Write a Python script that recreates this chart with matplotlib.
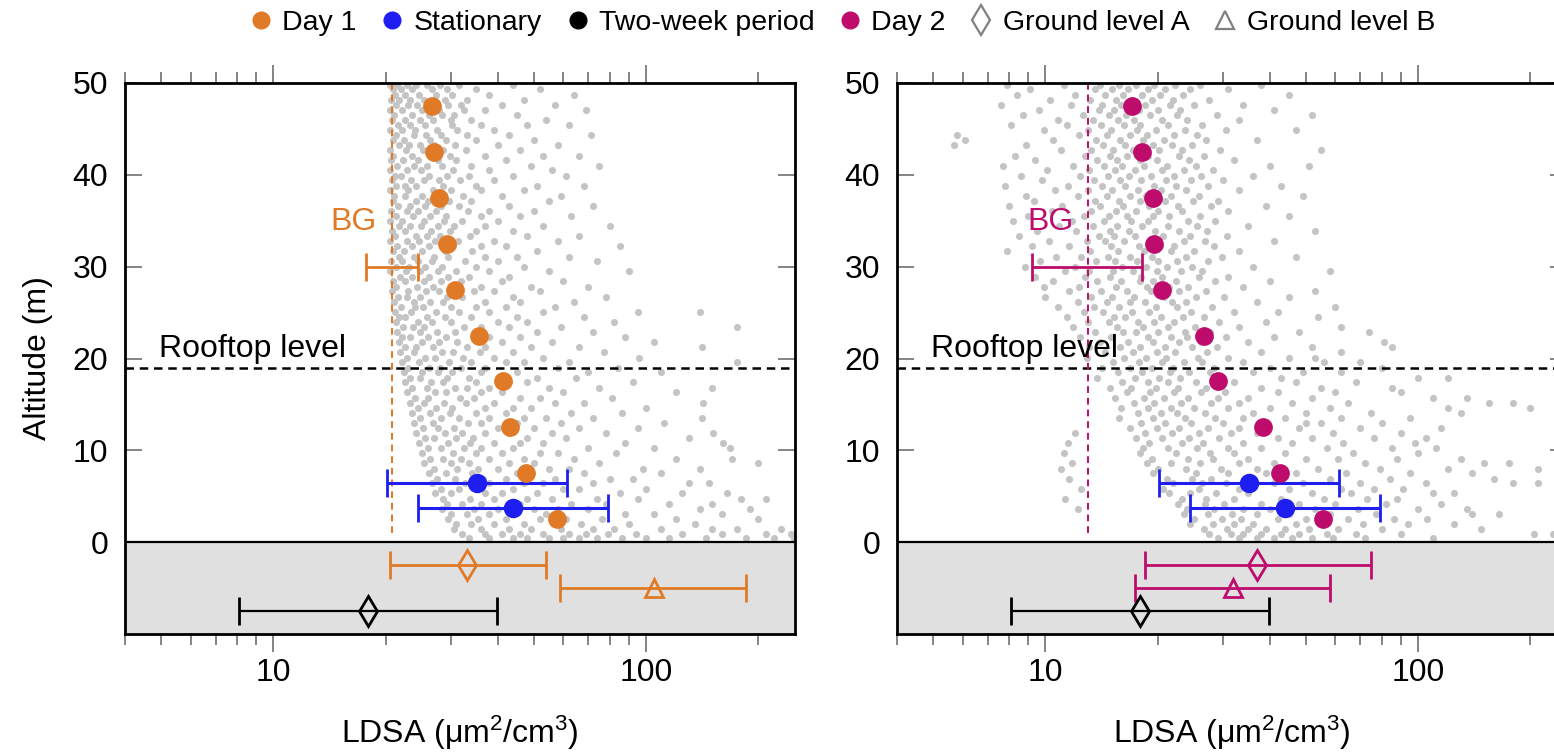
import matplotlib
matplotlib.use('Agg')
import numpy as np
import matplotlib.pyplot as plt
from matplotlib.ticker import FixedLocator, FixedFormatter, NullFormatter, LogLocator
from matplotlib.lines import Line2D

plt.rcParams['font.family'] = ['Liberation Sans', 'DejaVu Sans']
plt.rcParams['mathtext.default'] = 'regular'

# ---------------- data ----------------
profile_alt = [47.5, 42.5, 37.5, 32.5, 27.5, 22.5, 17.5, 12.5, 7.5, 2.5]
day1_ldsa = [26.7, 27.0, 27.9, 29.2, 30.8, 35.6, 41.3, 43.2, 47.5, 57.6]
day2_ldsa = [17.1, 18.2, 19.5, 19.6, 20.6, 26.6, 29.0, 38.3, 42.5, 55.5]

stat_alt = [6.4, 3.7]
stat_med = [35.3, 43.9]
stat_lo = [20.2, 24.4]
stat_hi = [61.3, 79.0]

twoweek_alt = -7.5
twoweek_med, twoweek_lo, twoweek_hi = 17.9, 8.1, 39.9

gla_alt, glb_alt = -2.5, -5.0
day1_gla = (33.1, 20.5, 53.8)   # median, low, high
day1_glb = (105.0, 58.8, 186.0)
day2_gla = (37.0, 18.5, 74.8)
day2_glb = (31.8, 17.4, 57.9)

bg_alt = 30.0
day1_bg = (20.8, 17.7, 24.5)
day2_bg = (13.0, 9.2, 18.2)
rooftop_alt = 19.0

# label anchor positions (data coords)
day1_bg_label = (16.4, 34.9)
day2_bg_label = (10.3, 34.9)
rooftop_label = (4.95, 20.2)

# gray cloud of individual 1-s measurements (altitude, [LDSA values])
day1_cloud = [
    (49.8, [20.6, 21.5, 22.8, 24.1, 25.9, 28.0, 31.5, 44]),
    (49.3, [20.9, 22.0, 23.5, 26.7, 29.2, 35, 52]),
    (48.7, [21.2, 22.5, 24.6, 27.3, 30.1, 38, 64]),
    (48.2, [20.7, 21.8, 23.2, 25.3, 28.8, 33, 47]),
    (47.6, [21.4, 23.0, 24.3, 29.5, 31.8, 41, 57]),
    (47.1, [20.5, 22.2, 25.0, 27.8, 32.5, 37, 69]),
    (46.5, [21.1, 23.6, 26.1, 28.4, 30.6, 45]),
    (46.0, [20.8, 22.6, 24.8, 26.9, 29.9, 34, 54]),
    (45.4, [21.6, 23.3, 25.5, 30.2, 36, 48, 62]),
    (44.9, [20.6, 22.1, 24.0, 27.5, 31.2, 39]),
    (44.3, [21.3, 23.9, 25.7, 28.1, 33, 43, 71]),
    (43.8, [20.9, 22.4, 26.4, 29.0, 35, 50]),
    (43.2, [21.7, 23.1, 24.7, 27.0, 30.8, 40, 58]),
    (42.7, [20.5, 22.7, 25.2, 28.6, 32.9, 46]),
    (42.1, [21.0, 23.5, 26.6, 29.7, 37, 53, 66]),
    (41.6, [20.7, 22.3, 24.4, 27.6, 31.0, 42]),
    (41.0, [21.5, 23.8, 25.8, 28.3, 34, 49, 75]),
    (40.5, [20.6, 22.9, 24.9, 30.4, 38, 56]),
    (39.9, [21.2, 22.0, 26.2, 29.3, 33.5, 44, 61]),
    (39.4, [20.8, 23.4, 25.3, 27.9, 31.7, 39]),
    (38.8, [21.4, 22.6, 24.2, 28.5, 35, 51, 68]),
    (38.3, [20.5, 23.0, 26.8, 30.0, 36, 47]),
    (37.7, [21.1, 22.5, 25.1, 27.2, 32.3, 41, 59]),
    (37.2, [20.9, 24.1, 26.0, 29.6, 34, 55]),
    (36.6, [21.6, 23.2, 25.6, 28.2, 31.4, 43, 72]),
    (36.1, [20.7, 22.8, 24.5, 27.4, 33.2, 38, 50]),
    (35.5, [21.3, 23.7, 26.3, 29.1, 36, 46, 63]),
    (35.0, [20.6, 22.2, 25.4, 28.7, 32.0, 40]),
    (34.4, [21.8, 23.3, 24.9, 27.7, 30.5, 37, 53, 80]),
    (33.9, [20.8, 22.6, 26.5, 29.8, 35, 44]),
    (33.3, [21.2, 24.2, 25.9, 28.0, 33.8, 48, 66]),
    (32.8, [20.5, 22.9, 24.6, 27.1, 31.3, 39, 58]),
    (32.2, [21.5, 23.5, 26.1, 30.3, 36, 42, 85]),
    (31.7, [20.9, 22.4, 25.0, 28.9, 34.2, 51]),
    (31.1, [21.7, 23.9, 27.0, 29.4, 37, 45, 62]),
    (30.6, [20.7, 22.1, 24.4, 26.7, 32.6, 40, 74]),
    (30.0, [21.3, 23.1, 25.6, 28.4, 35, 47]),
    (29.5, [20.6, 22.7, 24.8, 27.6, 30.9, 38, 55, 90]),
    (28.9, [21.9, 23.6, 26.2, 29.5, 33.6, 43]),
    (28.4, [21.0, 22.5, 25.3, 28.1, 31.8, 41, 60]),
    (27.8, [21.4, 24.3, 26.9, 30.6, 36, 49, 70]),
    (27.3, [20.8, 23.0, 25.7, 27.8, 34.5, 39, 52]),
    (26.7, [21.6, 22.8, 24.7, 29.2, 32.1, 44, 78]),
    (26.2, [21.1, 23.8, 26.4, 28.6, 37, 46, 64]),
    (25.6, [22.0, 24.0, 25.2, 30.0, 35, 42, 57]),
    (25.1, [21.2, 23.4, 27.3, 31.5, 38, 53, 95, 140]),
    (24.5, [21.8, 22.6, 25.9, 28.8, 33.9, 45, 68]),
    (24.0, [21.3, 24.5, 26.6, 29.9, 40, 48, 82]),
    (23.4, [22.3, 23.7, 25.4, 32.4, 36, 43, 59, 175]),
    (22.9, [21.5, 24.8, 27.5, 30.8, 34.7, 51, 72]),
    (22.3, [22.1, 23.2, 26.0, 29.0, 38, 46, 88]),
    (21.8, [21.7, 25.0, 27.9, 31.1, 41, 56, 105]),
    (21.2, [22.5, 24.2, 26.8, 33.0, 37, 49, 66, 141]),
    (20.7, [21.9, 23.9, 28.3, 30.4, 35.8, 44, 77]),
    (20.1, [22.8, 25.5, 27.2, 32.2, 39, 53, 96]),
    (19.6, [22.2, 24.6, 29.6, 34.0, 42, 47, 62, 175]),
    (19.0, [23.0, 26.2, 28.0, 31.9, 37, 58, 84]),
    (18.5, [22.4, 25.1, 27.7, 30.1, 36, 45, 70, 110]),
    (17.9, [23.3, 24.7, 29.3, 33.4, 40, 51, 65]),
    (17.4, [22.6, 26.5, 28.5, 35, 43, 48, 92]),
    (16.8, [23.6, 25.8, 30.7, 33.1, 38, 55, 75, 150]),
    (16.3, [22.9, 27.1, 29.1, 36, 41, 60, 120]),
    (15.7, [24.0, 26.0, 31.6, 34.6, 46, 52, 81]),
    (15.2, [23.2, 25.3, 28.7, 32.8, 39, 57, 68, 142]),
    (14.6, [24.4, 27.4, 30.2, 37, 44, 49, 100]),
    (14.1, [23.5, 26.3, 29.7, 35, 42, 63, 86]),
    (13.5, [24.8, 28.2, 31.4, 38, 47, 54, 72, 141]),
    (13.0, [23.8, 26.9, 33.3, 36, 45, 59, 112]),
    (12.4, [25.2, 27.6, 30.5, 40, 50, 66, 95]),
    (11.9, [24.2, 28.9, 32.0, 37, 43, 56, 78, 151]),
    (11.3, [25.6, 27.0, 31.0, 34.4, 48, 61, 130]),
    (10.8, [24.6, 29.4, 33.7, 39, 46, 53, 88, 161]),
    (10.2, [26.0, 28.1, 32.5, 36, 44, 70, 105, 168]),
    (9.7, [25.0, 30.3, 34.9, 41, 52, 58, 83]),
    (9.1, [26.4, 28.6, 31.8, 38, 47, 64, 120, 170]),
    (8.6, [25.4, 29.9, 33.5, 43, 50, 75, 200]),
    (8.0, [27.0, 31.2, 35.5, 40, 55, 62, 98, 140]),
    (7.5, [26.1, 29.0, 34.1, 45, 49, 68, 110]),
    (6.9, [27.5, 30.8, 36.5, 42, 57, 80, 92]),
    (6.4, [26.7, 32.6, 38, 47, 53, 72, 148, 130]),
    (5.8, [28.1, 31.5, 35.2, 44, 60, 66, 100]),
    (5.3, [27.2, 30.0, 37, 41, 51, 85, 125, 165]),
    (4.7, [28.6, 33.8, 39, 48, 56, 74, 95, 180, 210]),
    (4.2, [29.2, 32.1, 36, 46, 63, 78, 115, 150]),
    (3.6, [28.3, 34.5, 40, 50, 58, 70, 140, 190]),
    (3.1, [30.0, 33.0, 38, 44, 54, 88, 105, 160]),
    (2.5, [29.5, 35.5, 42, 52, 61, 76, 120, 200]),
    (2.0, [31.0, 34.0, 39, 47, 57, 67, 90, 135]),
    (1.4, [30.5, 36, 43, 49, 59, 72, 82, 110, 150, 175, 230]),
    (0.9, [32.0, 37, 41, 46, 53, 62, 69, 79, 94, 125, 160, 210, 245]),
    (0.4, [33.5, 38, 44, 48, 55, 60, 66, 74, 86, 100, 115, 145, 185, 220, 250]),
]

day2_cloud = [
    (49.8, [7.9, 11.2, 14.0, 15.8, 17.5, 19.6, 22.3, 26.0, 38]),
    (49.3, [9.1, 13.6, 15.1, 16.7, 18.9, 21.0, 24.5, 31]),
    (48.7, [8.4, 12.0, 14.5, 16.2, 18.2, 20.3, 23.4, 45]),
    (48.2, [10.3, 13.2, 15.5, 17.1, 19.3, 22.0, 27.5]),
    (47.6, [7.6, 11.7, 14.2, 16.0, 18.5, 21.6, 25.0, 34]),
    (47.1, [9.6, 13.9, 15.3, 17.8, 20.0, 23.0, 41]),
    (46.5, [8.7, 12.6, 14.8, 16.5, 19.1, 22.6, 28.8, 52]),
    (46.0, [10.8, 13.4, 15.7, 17.3, 20.6, 24.0, 33]),
    (45.4, [8.1, 11.4, 14.1, 16.3, 18.0, 21.3, 26.4]),
    (44.9, [9.9, 13.0, 15.0, 17.6, 19.8, 23.7, 30.5, 47]),
    (44.3, [5.8, 12.3, 14.6, 16.9, 18.7, 22.2, 25.6]),
    (43.8, [6.1, 10.5, 13.7, 15.9, 18.3, 20.8, 27.0, 37]),
    (43.2, [5.7, 8.9, 14.3, 16.4, 19.5, 21.9, 24.8]),
    (42.7, [11.0, 13.3, 15.2, 17.2, 20.2, 23.3, 29.5, 55]),
    (42.1, [8.3, 12.8, 14.9, 16.6, 18.8, 22.8, 26.7]),
    (41.6, [9.4, 13.8, 15.6, 17.9, 19.9, 24.3, 32]),
    (41.0, [7.7, 11.9, 14.4, 16.1, 18.4, 21.2, 25.3, 40, 51]),
    (40.5, [10.1, 13.1, 15.4, 17.4, 20.5, 23.5, 28.1]),
    (39.9, [8.6, 12.4, 14.7, 16.8, 19.2, 22.1, 26.2, 36]),
    (39.4, [9.8, 13.5, 15.9, 18.1, 21.1, 24.6, 30.0]),
    (38.8, [7.8, 11.5, 14.2, 16.4, 19.6, 22.4, 27.3, 43]),
    (38.3, [10.6, 13.0, 15.1, 17.7, 20.4, 23.8, 33]),
    (37.7, [8.9, 12.2, 14.6, 16.9, 18.6, 21.7, 25.8, 49]),
    (37.2, [9.3, 13.6, 15.8, 18.0, 20.9, 24.9, 29.0]),
    (36.6, [8.0, 11.1, 14.0, 16.2, 19.0, 22.7, 27.8, 39]),
    (36.1, [10.4, 13.3, 15.5, 17.5, 20.1, 23.2, 31]),
    (35.5, [9.0, 12.7, 14.8, 16.6, 19.4, 21.5, 26.0, 45]),
    (35.0, [8.2, 11.8, 14.4, 17.0, 18.9, 24.1, 28.5]),
    (34.4, [10.9, 13.4, 15.6, 18.2, 21.4, 25.5, 35]),
    (33.9, [9.5, 12.1, 14.9, 16.8, 19.7, 22.9, 27.1, 53]),
    (33.3, [8.5, 13.9, 15.3, 17.4, 20.7, 24.4, 30.8]),
    (32.8, [10.2, 12.9, 14.5, 16.3, 19.1, 23.6, 26.9, 41]),
    (32.2, [9.2, 11.6, 15.0, 17.8, 20.3, 22.2, 28.3]),
    (31.7, [7.9, 13.2, 15.7, 18.4, 21.8, 25.1, 33]),
    (31.1, [10.7, 12.5, 14.7, 16.9, 19.3, 23.9, 29.8, 47]),
    (30.6, [9.7, 13.7, 15.4, 17.6, 20.0, 22.5, 27.4]),
    (30.0, [8.8, 12.0, 16.1, 18.6, 21.2, 24.7, 36]),
    (29.5, [11.3, 13.1, 15.2, 17.2, 19.9, 23.1, 26.3, 58]),
    (28.9, [9.4, 12.8, 14.9, 18.1, 20.6, 25.8, 31]),
    (28.4, [10.5, 13.8, 16.0, 17.9, 19.5, 22.4, 28.6, 40]),
    (27.8, [9.9, 12.3, 15.5, 18.7, 21.5, 24.2, 34]),
    (27.3, [11.6, 14.1, 16.6, 19.2, 22.9, 27.0, 53]),
    (26.7, [10.0, 13.3, 15.1, 17.3, 20.8, 25.3, 30.2, 45]),
    (26.2, [12.2, 14.6, 16.9, 18.5, 21.9, 23.8, 37]),
    (25.6, [10.8, 13.5, 15.8, 19.8, 22.6, 28.0, 60]),
    (25.1, [12.7, 14.3, 17.1, 19.0, 24.6, 32, 42]),
    (24.5, [11.4, 15.3, 16.4, 20.4, 23.4, 26.6, 54]),
    (24.0, [13.0, 14.8, 17.7, 19.6, 22.1, 29.2, 39]),
    (23.4, [11.9, 15.6, 18.3, 21.3, 25.2, 33, 62]),
    (22.9, [13.6, 16.2, 17.5, 20.1, 23.7, 27.7, 48, 74]),
    (22.3, [12.4, 15.0, 18.9, 21.7, 24.0, 30.6, 41]),
    (21.8, [14.0, 16.7, 19.4, 22.8, 26.1, 35, 81]),
    (21.2, [13.1, 15.9, 18.0, 20.9, 24.8, 28.9, 52, 85]),
    (20.7, [14.5, 17.2, 19.9, 22.3, 27.2, 38, 62]),
    (20.1, [12.9, 16.3, 18.6, 21.1, 25.7, 31, 45, 53]),
    (19.6, [15.2, 17.8, 20.5, 23.5, 26.4, 34, 56, 70]),
    (19.0, [14.2, 16.9, 19.3, 22.0, 28.4, 40, 80]),
    (18.5, [15.7, 18.2, 21.6, 24.3, 27.6, 36, 49, 62]),
    (17.9, [13.8, 17.4, 20.2, 23.0, 29.9, 43, 100, 120]),
    (17.4, [16.1, 18.8, 21.3, 25.4, 32, 47, 68]),
    (16.8, [14.9, 17.0, 19.8, 22.7, 27.0, 38, 55, 85]),
    (16.3, [16.6, 19.1, 22.2, 26.2, 30.4, 42, 60, 90]),
    (15.7, [15.4, 18.4, 20.8, 24.1, 29.0, 35, 52, 110, 135]),
    (15.2, [17.3, 19.6, 23.1, 27.8, 33, 46, 65, 155, 180]),
    (14.6, [16.0, 18.9, 21.7, 25.0, 31, 40, 58, 120, 200]),
    (14.1, [17.7, 20.4, 22.6, 26.8, 36, 50, 75, 130]),
    (13.5, [15.8, 19.4, 23.7, 28.6, 34, 44, 62, 95]),
    (13.0, [18.1, 21.0, 24.6, 30.0, 39, 55, 80, 50]),
    (12.4, [16.9, 19.9, 22.9, 27.3, 33, 48, 70, 115]),
    (11.9, [12.0, 18.5, 21.9, 25.9, 31.5, 37, 59, 90]),
    (11.3, [17.5, 20.6, 24.3, 29.3, 42, 52, 76, 105]),
    (10.8, [11.5, 19.0, 23.2, 26.5, 34, 46, 63, 98]),
    (10.2, [18.3, 21.4, 25.5, 30.9, 38, 57, 85, 112]),
    (9.7, [11.2, 17.9, 22.4, 27.6, 32, 44, 67, 100]),
    (9.1, [19.3, 24.2, 28.2, 35, 50, 61, 88, 130]),
    (8.6, [11.8, 18.7, 21.8, 26.0, 33, 41, 72, 150, 175]),
    (8.0, [11.0, 20.1, 23.9, 29.6, 37, 54, 79, 120, 210]),
    (7.5, [19.5, 25.3, 31, 39, 47, 64, 95, 140]),
    (6.9, [11.6, 21.2, 24.7, 27.9, 36, 58, 84, 160]),
    (6.4, [22.0, 26.3, 30.5, 41, 49, 70, 105, 180, 210]),
    (5.8, [12.5, 20.7, 25.8, 33, 45, 62, 76, 91]),
    (5.3, [21.5, 24.5, 28.7, 35, 52, 66, 110, 125]),
    (4.7, [11.3, 23.3, 27.0, 32, 43, 56, 73, 88]),
    (4.2, [22.7, 26.9, 30.1, 38, 48, 60, 82, 115]),
    (3.6, [12.2, 24.0, 28.4, 34, 40, 53, 69, 100, 135]),
    (3.1, [23.6, 27.4, 31.6, 37, 45, 58, 77, 140, 165]),
    (2.5, [25.0, 29.8, 33.5, 42, 50, 65, 86, 106]),
    (2.0, [24.4, 28.1, 32, 36, 47, 55, 71, 94, 125]),
    (1.4, [26.6, 30.7, 35, 39, 44, 51, 61, 80, 148]),
    (0.9, [27.5, 31.5, 34, 38, 43, 48, 57, 68, 90, 205, 230]),
    (0.4, [29.0, 33, 37, 41, 46, 52, 59, 72, 110, 240]),
]

tick_labels = ['10', '100']

# ---------------- colours ----------------
C_DAY1 = '#E07A26'
C_DAY2 = '#BD0C6C'
C_STAT = '#1E1EF0'
C_CLOUD = '#C4C4C4'
C_GROUND = '#E0E0E0'


def flatten(rows):
    xs, ys = [], []
    for a, vals in rows:
        for v in vals:
            xs.append(v)
            ys.append(a)
    return np.array(xs), np.array(ys)


def ebar(ax, x, lo, hi, y, color, marker, ms, mfc, lw=2.0, z=5):
    ax.errorbar([x], [y], xerr=[[x - lo], [hi - x]], fmt=marker, color=color,
                ms=ms, mfc=mfc, mec=color, mew=2.0, elinewidth=lw,
                capsize=10, capthick=lw, zorder=z)


fig = plt.figure(figsize=(15.54, 7.55), dpi=100)
W, H = 1554.0, 755.0
axL = fig.add_axes([125 / W, (H - 634) / H, 670 / W, 551 / H])
axR = fig.add_axes([897 / W, (H - 634) / H, 670 / W, 551 / H])


def style(ax, color, bg, bg_label, cloud, prof, gla, glb):
    ax.set_xscale('log')
    ax.set_xlim(4, 251)
    ax.set_ylim(-10, 50)
    ax.axhspan(-10, 0, color=C_GROUND, lw=0, zorder=0)
    cx, cy = flatten(cloud)
    ax.scatter(cx, cy, s=26, color=C_CLOUD, lw=0, zorder=1)
    ax.axhline(0, color='black', lw=1.6, zorder=2)
    ax.axhline(rooftop_alt, color='black', lw=1.8, ls=(0, (3.4, 2.3)), zorder=3)
    ax.vlines(bg[0], 1.0, 50, color=color, lw=1.4, ls=(0, (3.5, 2.5)), zorder=3)
    ax.errorbar([bg[0]], [bg_alt], xerr=[[bg[0] - bg[1]], [bg[2] - bg[0]]], fmt='none',
                ecolor=color, elinewidth=2.0, capsize=10, capthick=2.0, zorder=4)
    ax.text(bg_label[0], bg_label[1], 'BG', color=color, fontsize=23,
            ha='center', va='center', zorder=4)
    ax.text(rooftop_label[0], rooftop_label[1], 'Rooftop level', color='black', fontsize=23,
            ha='left', va='baseline', zorder=4)
    # stationary
    for a, m, lo, hi in zip(stat_alt, stat_med, stat_lo, stat_hi):
        ebar(ax, m, lo, hi, a, C_STAT, 'o', 12, C_STAT, lw=2.2, z=6)
    # profile
    ax.plot(prof, profile_alt, 'o', color=color, ms=13.5, mec='none', zorder=7)
    # ground levels
    ebar(ax, gla[0], gla[1], gla[2], gla_alt, color, 'd', 15, 'none')
    ebar(ax, glb[0], glb[1], glb[2], glb_alt, color, '^', 13, 'none')
    ebar(ax, twoweek_med, twoweek_lo, twoweek_hi, twoweek_alt, 'black', 'd', 15, 'none', lw=1.6)

    for s in ax.spines.values():
        s.set_linewidth(2.0)
        s.set_zorder(8)
    ax.xaxis.set_major_locator(FixedLocator([10, 100]))
    ax.xaxis.set_major_formatter(FixedFormatter(tick_labels))
    ax.xaxis.set_minor_locator(LogLocator(base=10, subs=np.arange(2, 10)))
    ax.xaxis.set_minor_formatter(NullFormatter())
    ax.tick_params(axis='x', which='both', direction='out', top=True, bottom=True,
                   color='#707070', width=1.2, labelsize=23, pad=4)
    ax.tick_params(axis='x', which='major', length=13)
    ax.tick_params(axis='x', which='minor', length=8)
    ax.set_yticks([0, 10, 20, 30, 40, 50])
    ax.tick_params(axis='y', which='both', direction='in', left=True, right=True,
                   length=12, width=1.2, color='#707070', labelsize=23, pad=12)
    ax.set_xlabel('LDSA (μm$^2$/cm$^3$)', fontsize=23, labelpad=19)


style(axL, C_DAY1, day1_bg, day1_bg_label, day1_cloud, day1_ldsa, day1_gla, day1_glb)
style(axR, C_DAY2, day2_bg, day2_bg_label, day2_cloud, day2_ldsa, day2_gla, day2_glb)
axL.set_ylabel('Altitude (m)', fontsize=23, labelpad=14)

handles = [
    Line2D([], [], ls='none', marker='o', ms=12, mfc=C_DAY1, mec=C_DAY1),
    Line2D([], [], ls='none', marker='o', ms=12, mfc=C_STAT, mec=C_STAT),
    Line2D([], [], ls='none', marker='o', ms=12, mfc='black', mec='black'),
    Line2D([], [], ls='none', marker='o', ms=12, mfc=C_DAY2, mec=C_DAY2),
    Line2D([], [], ls='none', marker='d', ms=15, mfc='none', mec='#808080', mew=1.6),
    Line2D([], [], ls='none', marker='^', ms=13, mfc='none', mec='#808080', mew=1.6),
]
labels = ['Day 1', 'Stationary', 'Two-week period', 'Day 2', 'Ground level A', 'Ground level B']
fig.legend(handles, labels, loc='upper center', bbox_to_anchor=(0.542, 1.01), ncol=6,
           frameon=False, fontsize=20.5, handlelength=0.8, handletextpad=0.35,
           columnspacing=0.85, borderaxespad=0.2)

fig.savefig('out.png', dpi=100)
